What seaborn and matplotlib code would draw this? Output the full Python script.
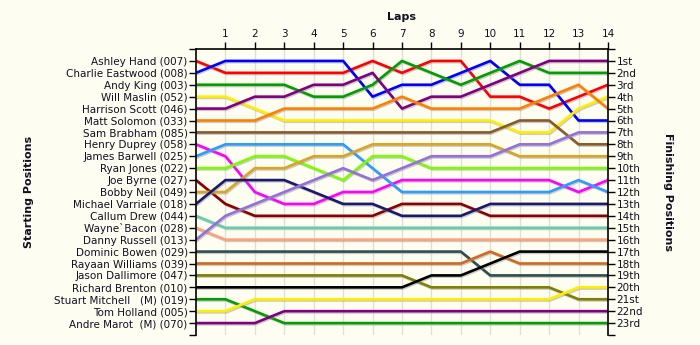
import matplotlib
matplotlib.use("Agg")
import matplotlib.pyplot as plt
import matplotlib.patheffects as pe
import seaborn as sns
import pandas as pd

laps = list(range(15))

drivers = [
    "Ashley Hand (007)", "Charlie Eastwood (008)", "Andy King (003)", "Will Maslin (052)",
    "Harrison Scott (046)", "Matt Solomon (033)", "Sam Brabham (085)", "Henry Duprey (058)",
    "James Barwell (025)", "Ryan Jones (022)", "Joe Byrne (027)", "Bobby Neil (049)",
    "Michael Varriale (018)", "Callum Drew (044)", "Wayne`Bacon (028)", "Danny Russell (013)",
    "Dominic Bowen (029)", "Rayaan Williams (039)", "Jason Dallimore (047)",
    "Richard Brenton (010)", "Stuart Mitchell   (M) (019)", "Tom Holland (005)",
    "Andre Marot  (M) (070)",
]

positions = [
    [1, 2, 2, 2, 2, 2, 1, 2, 1, 1, 4, 4, 5, 4, 3],
    [2, 1, 1, 1, 1, 1, 4, 3, 3, 2, 1, 3, 3, 6, 6],
    [3, 3, 3, 3, 4, 4, 3, 1, 2, 3, 2, 1, 2, 2, 2],
    [4, 4, 5, 6, 6, 6, 6, 6, 6, 6, 6, 7, 7, 5, 4],
    [5, 5, 4, 4, 3, 3, 2, 5, 4, 4, 3, 2, 1, 1, 1],
    [6, 6, 6, 5, 5, 5, 5, 4, 5, 5, 5, 5, 4, 3, 5],
    [7, 7, 7, 7, 7, 7, 7, 7, 7, 7, 7, 6, 6, 8, 8],
    [8, 9, 12, 13, 13, 12, 12, 11, 11, 11, 11, 11, 11, 12, 11],
    [9, 8, 8, 8, 8, 8, 10, 12, 12, 12, 12, 12, 12, 11, 12],
    [10, 10, 9, 9, 10, 11, 9, 9, 10, 10, 10, 10, 10, 10, 10],
    [11, 13, 14, 14, 14, 14, 14, 13, 13, 13, 14, 14, 14, 14, 14],
    [12, 12, 10, 10, 9, 9, 8, 8, 8, 8, 8, 9, 9, 9, 9],
    [13, 11, 11, 11, 12, 13, 13, 14, 14, 14, 13, 13, 13, 13, 13],
    [14, 15, 15, 15, 15, 15, 15, 15, 15, 15, 15, 15, 15, 15, 15],
    [15, 16, 16, 16, 16, 16, 16, 16, 16, 16, 16, 16, 16, 16, 16],
    [16, 14, 13, 12, 11, 10, 11, 10, 9, 9, 9, 8, 8, 7, 7],
    [17, 17, 17, 17, 17, 17, 17, 17, 17, 17, 19, 19, 19, 19, 19],
    [18, 18, 18, 18, 18, 18, 18, 18, 18, 18, 17, 18, 18, 18, 18],
    [19, 19, 19, 19, 19, 19, 19, 19, 20, 20, 20, 20, 20, 21, 21],
    [20, 20, 20, 20, 20, 20, 20, 20, 19, 19, 18, 17, 17, 17, 17],
    [21, 21, 22, 23, 23, 23, 23, 23, 23, 23, 23, 23, 23, 23, 23],
    [22, 22, 21, 21, 21, 21, 21, 21, 21, 21, 21, 21, 21, 20, 20],
    [23, 23, 23, 22, 22, 22, 22, 22, 22, 22, 22, 22, 22, 22, 22],
]

colors = [
    "#ff0000", "#0000ff", "#009e00", "#ffee00", "#800080", "#ff8000", "#8b5a2b",
    "#ff00ff", "#2e9bff", "#7cfc00", "#8b0000", "#daa520", "#191970", "#66cdaa",
    "#ffa07a", "#9370db", "#2f4f4f", "#d2691e", "#808000", "#000000", "#009e00",
    "#ffee00", "#800080",
]

finish_labels = ["1st", "2nd", "3rd", "4th", "5th", "6th", "7th", "8th", "9th", "10th",
                 "11th", "12th", "13th", "14th", "15th", "16th", "17th", "18th", "19th",
                 "20th", "21st", "22nd", "23rd"]

rows = []
for d, pos in zip(drivers, positions):
    for lap, p in zip(laps, pos):
        rows.append({"driver": d, "lap": lap, "pos": p})
df = pd.DataFrame(rows)

sns.set_theme(style="white")
plt.rcParams["font.family"] = ["DejaVu Sans"]
bg = "#fdfdf2"
fig = plt.figure(figsize=(7, 3.45), dpi=100, facecolor=bg)
ax = fig.add_axes([196 / 700, 1 - 335 / 345, 412 / 700, 286 / 345])
ax.set_facecolor(bg)

# vertical gridlines
for lap in laps[1:-1]:
    ax.axvline(lap, color="#e0e0da", lw=1.0, zorder=0)

sns.lineplot(data=df, x="lap", y="pos", hue="driver", hue_order=drivers,
             palette=dict(zip(drivers, colors)), estimator=None, sort=False,
             legend=False, ax=ax, linewidth=1.9)
for ln in ax.lines:
    if ln.get_linewidth() > 1.5:
        ln.set_path_effects([pe.SimpleLineShadow(offset=(0.7, -0.9), shadow_color="#909090", alpha=0.45),
                             pe.Normal()])

ax.set_xlim(0, 14)
ax.set_ylim(24, 0)
fs = 7.5
txtc = "#101020"
ax.set_yticks(range(0, 25))
ax.set_yticklabels([""] + drivers + [""], fontsize=fs, color=txtc)
ax.set_xticks(laps[1:])
ax.set_xticklabels([str(l) for l in laps[1:]], fontsize=fs, color=txtc)
ax.xaxis.tick_top()
ax.tick_params(axis="x", which="both", top=True, bottom=False, direction="out",
               length=5, width=1, color="black", pad=2)
ax.tick_params(axis="y", left=True, direction="out", length=5, width=1, color="black", pad=1)
ax.set_xlabel("")
ax.set_ylabel("")
for s in ["left", "right", "top"]:
    ax.spines[s].set_visible(True)
    ax.spines[s].set_color("black")
    ax.spines[s].set_linewidth(1.2)
ax.spines["bottom"].set_visible(False)

ax2 = ax.twinx()
ax2.set_ylim(24, 0)
ax2.set_yticks(range(0, 25))
ax2.set_yticklabels([""] + finish_labels + [""], fontsize=fs, color=txtc)
ax2.tick_params(axis="y", right=True, direction="out", length=5, width=1, color="black", pad=1)
for s in ["left", "right", "top", "bottom"]:
    ax2.spines[s].set_visible(False)
ax2.grid(False)
ax.grid(False)

fig.text(402 / 700, 1 - 17 / 345, "Laps", ha="center", va="center", fontsize=8, fontweight="bold", color=txtc)
fig.text(29 / 700, 1 - 192 / 345, "Starting Positions", ha="center", va="center", rotation=90,
         fontsize=8, fontweight="bold", color=txtc)
fig.text(668 / 700, 1 - 192 / 345, "Finishing Positions", ha="center", va="center", rotation=270,
         fontsize=8, fontweight="bold", color=txtc)

fig.savefig("out.png", dpi=100, facecolor=bg)
